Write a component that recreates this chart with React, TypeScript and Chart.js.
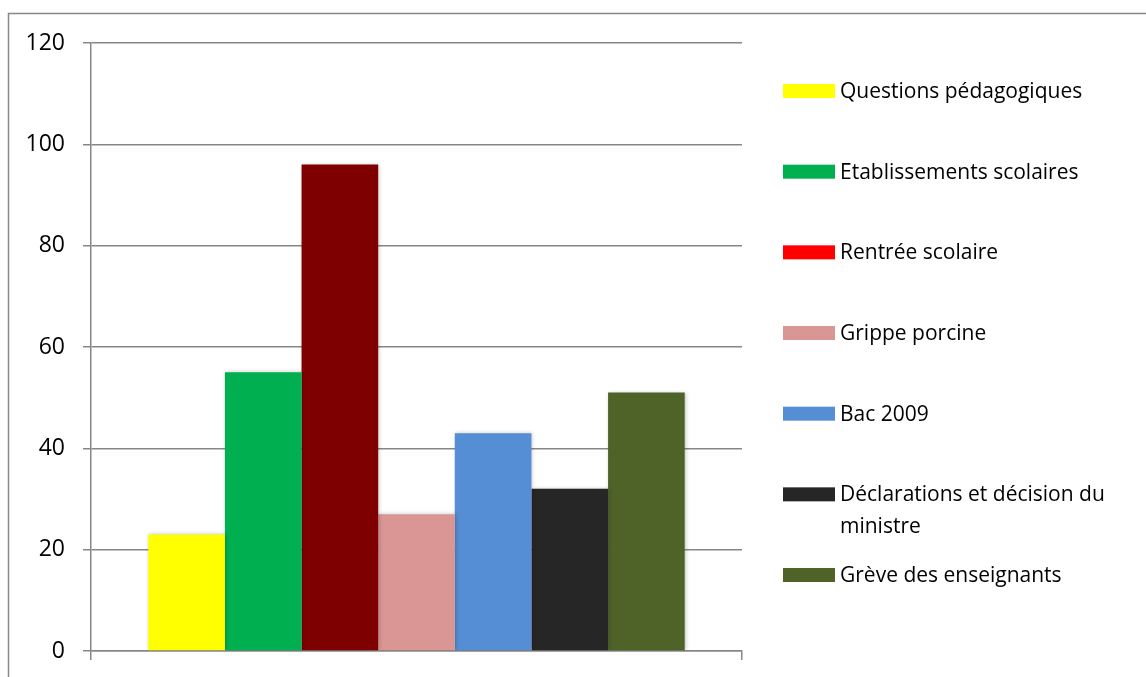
import React, { useEffect, useRef } from 'react';
import { Chart, registerables } from 'chart.js';

Chart.register(...registerables);

const categories = [''];
const seriesNames = [
  'Questions pédagogiques',
  'Etablissements scolaires',
  'Rentrée scolaire',
  'Grippe porcine',
  'Bac 2009',
  'Déclarations et décision du ministre',
  'Grève des enseignants',
];
const seriesValues = [23, 55, 96, 27, 43, 32, 51];
const barColors = ['#FFFF00', '#00B050', '#7F0000', '#D99694', '#558ED5', '#262626', '#4F6228'];
const legendColors = ['#FFFF00', '#00B050', '#FF0000', '#D99694', '#558ED5', '#262626', '#4F6228'];
const yMin = 0;
const yMax = 120;
const yStep = 20;

const FONT = '"Open Sans", "Noto Sans", sans-serif';
const GRID = '#878787';

function wrapText(ctx: CanvasRenderingContext2D, text: string, maxW: number): string[] {
  const words = text.split(' ');
  const lines: string[] = [];
  let cur = '';
  for (const w of words) {
    const t = cur ? cur + ' ' + w : w;
    if (ctx.measureText(t).width > maxW && cur) {
      lines.push(cur);
      cur = w;
    } else {
      cur = t;
    }
  }
  if (cur) lines.push(cur);
  return lines;
}

const framePlugin = {
  id: 'frame',
  beforeDraw(chart: any) {
    const ctx = chart.ctx as CanvasRenderingContext2D;
    ctx.save();
    ctx.fillStyle = '#ffffff';
    ctx.fillRect(0, 0, chart.width, chart.height);
    ctx.strokeStyle = GRID;
    ctx.lineWidth = 1.5;
    ctx.beginPath();
    ctx.moveTo(8.5, chart.height + 2);
    ctx.lineTo(8.5, 13.5);
    ctx.lineTo(chart.width + 2, 13.5);
    ctx.stroke();
    ctx.restore();
  },
};

const shadowPlugin = {
  id: 'barShadow',
  beforeDatasetsDraw(chart: any) {
    const ctx = chart.ctx as CanvasRenderingContext2D;
    ctx.save();
    ctx.shadowColor = 'rgba(0,0,0,0.22)';
    ctx.shadowBlur = 4;
    ctx.shadowOffsetX = 1;
    ctx.shadowOffsetY = 0;
  },
  afterDatasetsDraw(chart: any) {
    chart.ctx.restore();
  },
};

const legendPlugin = {
  id: 'sideLegend',
  afterDraw(chart: any) {
    const ctx = chart.ctx as CanvasRenderingContext2D;
    ctx.save();
    ctx.font = `21px ${FONT}`;
    ctx.textBaseline = 'middle';
    ctx.textAlign = 'left';
    const swX = 783;
    const swW = 52;
    const swH = 14;
    const textX = 840;
    const maxW = chart.width - textX - 4;
    const top = 91;
    const step = 80.67;
    const lineH = 32;
    chart.data.datasets.forEach((ds: any, i: number) => {
      const y = top + i * step;
      ctx.fillStyle = legendColors[i];
      ctx.fillRect(swX, y - swH / 2, swW, swH);
      ctx.fillStyle = '#000000';
      const lines = wrapText(ctx, ds.label, maxW);
      lines.forEach((ln, j) => ctx.fillText(ln, textX, y + 1 + j * lineH));
    });
    ctx.restore();
  },
};

export default function App() {
  const ref = useRef<HTMLCanvasElement>(null);

  useEffect(() => {
    if (!ref.current) return;
    const chart = new Chart(ref.current, {
      type: 'bar',
      data: {
        labels: categories,
        datasets: seriesNames.map((name, i) => ({
          label: name,
          data: [seriesValues[i]],
          backgroundColor: barColors[i],
          borderWidth: 0,
          categoryPercentage: 0.824,
          barPercentage: 1,
        })),
      },
      options: {
        responsive: false,
        animation: false,
        devicePixelRatio: 1,
        layout: { autoPadding: false, padding: { left: 0, top: 43, right: 404, bottom: 17 } },
        plugins: {
          legend: { display: false },
          tooltip: { enabled: false },
        },
        scales: {
          x: {
            type: 'category',
            offset: true,
            grid: {
              offset: true,
              drawOnChartArea: false,
              drawTicks: true,
              tickLength: 9,
              color: GRID,
              lineWidth: 1.5,
            },
            border: { color: GRID, width: 1.5 },
            ticks: { display: false },
            afterFit(s: any) {
              s.height = 9;
            },
          },
          y: {
            min: yMin,
            max: yMax,
            ticks: {
              stepSize: yStep,
              padding: 18,
              color: '#000000',
              font: { family: FONT, size: 23 },
            },
            grid: { color: GRID, lineWidth: 1.5, tickLength: 8 },
            border: { color: GRID, width: 1.5 },
            afterFit(s: any) {
              s.width = 91;
              s.paddingTop = 0;
              s.paddingBottom = 0;
            },
          },
        },
      },
      plugins: [framePlugin, shadowPlugin, legendPlugin],
    } as any);
    return () => chart.destroy();
  }, []);

  return (
    <div style={{ position: 'fixed', left: 0, top: 0, width: 1146, height: 677, background: '#fff' }}>
      <canvas ref={ref} width={1146} height={677} style={{ display: 'block', width: 1146, height: 677 }} />
    </div>
  );
}
